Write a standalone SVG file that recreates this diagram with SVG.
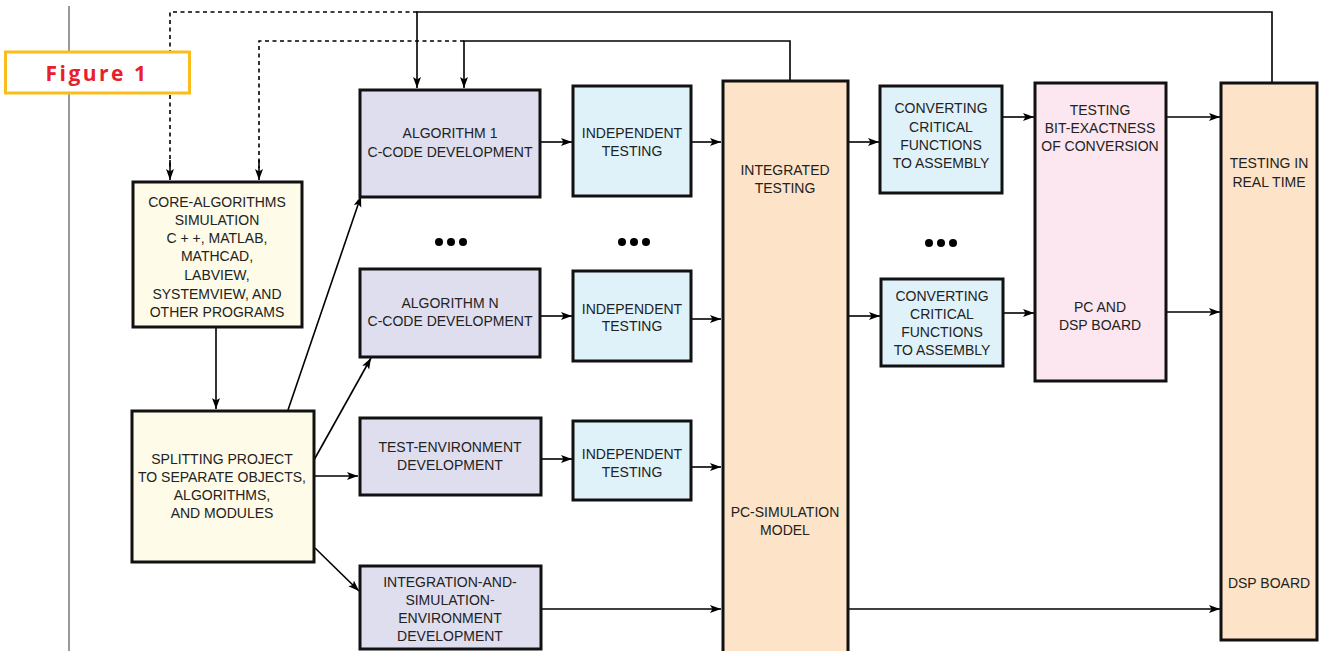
<svg xmlns="http://www.w3.org/2000/svg" width="1322" height="651" viewBox="0 0 1322 651">
<defs>
<marker id="ah" markerUnits="userSpaceOnUse" markerWidth="12" markerHeight="10" refX="11" refY="4" orient="auto">
<path d="M0,0 L11,4 L0,8 L2.5,4 Z" fill="#000"/>
</marker>
</defs>
<style>
.box{stroke:#111;stroke-width:3}
.cream{fill:#FEFBE8}
.lav{fill:#DFDEEE}
.blue{fill:#DFF2FA}
.peach{fill:#FDE3C7}
.pink{fill:#FCE6F0}
text{font-family:"Liberation Sans",Arial,sans-serif;font-size:14px;fill:#222;text-anchor:middle}
.c{fill:none;stroke:#000;stroke-width:1.6}
.a{marker-end:url(#ah)}
.d{stroke-dasharray:4,3.5}
</style>
<rect width="1322" height="651" fill="#fff"/>
<line x1="69" y1="6" x2="69" y2="651" stroke="#777" stroke-width="1.5"/>

<g id="connectors">
<path class="c d" d="M417,12 H170 V168"/>
<path class="c" d="M170,160 V180" marker-end="url(#ah)"/>
<path class="c d" d="M464,41 H259 V168"/>
<path class="c" d="M259,160 V180" marker-end="url(#ah)"/>
<path class="c a" d="M1272,83 V12 H417 V88"/>
<path class="c a" d="M790,81 V41 H464 V88"/>
<path class="c a" d="M216,327 V409"/>
<path class="c a" d="M288,410 L361,196"/>
<path class="c a" d="M314,460 L371,358"/>
<path class="c a" d="M314,476 H358"/>
<path class="c a" d="M315,548 L359,591"/>
<path class="c a" d="M540,142 H572"/>
<path class="c a" d="M691,142 H721"/>
<path class="c a" d="M540,316 H572"/>
<path class="c a" d="M691,319 H721"/>
<path class="c a" d="M541,459 H572"/>
<path class="c a" d="M691,467 H721"/>
<path class="c a" d="M541,609 H721"/>
<path class="c a" d="M848,142 H879"/>
<path class="c a" d="M848,316 H880"/>
<path class="c a" d="M848,609 H1220"/>
<path class="c a" d="M1002,117 H1034"/>
<path class="c a" d="M1003,313 H1034"/>
<path class="c a" d="M1166,117 H1220"/>
<path class="c a" d="M1166,312 H1220"/>
</g>

<g id="figure-label">
<rect x="5.5" y="52" width="184" height="41" fill="#fff" stroke="#FBBD1C" stroke-width="3"/>
<text x="97" y="81" style="font-family:'Open Sans','Liberation Sans',sans-serif;font-weight:bold;font-size:21px;fill:#E8202A;letter-spacing:2.5px">Figure 1</text>
</g>

<g id="core-algorithms">
<rect class="box cream" x="133" y="182" width="169" height="145"/>
<text x="217" y="207">CORE-ALGORITHMS</text>
<text x="217" y="225">SIMULATION</text>
<text x="217" y="243">C + +, MATLAB,</text>
<text x="217" y="261">MATHCAD,</text>
<text x="217" y="280">LABVIEW,</text>
<text x="217" y="299">SYSTEMVIEW, AND</text>
<text x="217" y="317">OTHER PROGRAMS</text>
</g>

<g id="splitting">
<rect class="box cream" x="132" y="411" width="182" height="151"/>
<text x="222" y="464">SPLITTING PROJECT</text>
<text x="222" y="482">TO SEPARATE OBJECTS,</text>
<text x="222" y="500">ALGORITHMS,</text>
<text x="222" y="518">AND MODULES</text>
</g>

<g id="algorithm-1">
<rect class="box lav" x="360" y="90" width="180" height="107"/>
<text x="450" y="138">ALGORITHM 1</text>
<text x="450" y="157">C-CODE DEVELOPMENT</text>
</g>

<g id="indep-1">
<rect class="box blue" x="573" y="86" width="118" height="110"/>
<text x="632" y="138">INDEPENDENT</text>
<text x="632" y="156">TESTING</text>
</g>

<g id="dots">
<circle cx="439" cy="242" r="4"/><circle cx="451" cy="242" r="4"/><circle cx="463" cy="242" r="4"/>
<circle cx="622" cy="242" r="4"/><circle cx="634" cy="242" r="4"/><circle cx="646" cy="242" r="4"/>
<circle cx="929" cy="243" r="4"/><circle cx="941" cy="243" r="4"/><circle cx="953" cy="243" r="4"/>
</g>

<g id="algorithm-n">
<rect class="box lav" x="360" y="269" width="180" height="88"/>
<text x="450" y="308">ALGORITHM N</text>
<text x="450" y="326">C-CODE DEVELOPMENT</text>
</g>

<g id="indep-n">
<rect class="box blue" x="573" y="271" width="118" height="90"/>
<text x="632" y="314">INDEPENDENT</text>
<text x="632" y="331">TESTING</text>
</g>

<g id="test-environment">
<rect class="box lav" x="360" y="418" width="181" height="77"/>
<text x="450" y="452">TEST-ENVIRONMENT</text>
<text x="450" y="470">DEVELOPMENT</text>
</g>

<g id="indep-3">
<rect class="box blue" x="573" y="421" width="118" height="79"/>
<text x="632" y="459">INDEPENDENT</text>
<text x="632" y="477">TESTING</text>
</g>

<g id="integration-env">
<rect class="box lav" x="360" y="566" width="181" height="83"/>
<text x="450" y="587">INTEGRATION-AND-</text>
<text x="450" y="605">SIMULATION-</text>
<text x="450" y="623">ENVIRONMENT</text>
<text x="450" y="641">DEVELOPMENT</text>
</g>

<g id="integrated-testing">
<rect class="box peach" x="723" y="81" width="125" height="580"/>
<text x="785" y="175">INTEGRATED</text>
<text x="785" y="193">TESTING</text>
<text x="785" y="517">PC-SIMULATION</text>
<text x="785" y="535">MODEL</text>
</g>

<g id="converting-1">
<rect class="box blue" x="880" y="86" width="122" height="107"/>
<text x="941" y="113">CONVERTING</text>
<text x="941" y="132">CRITICAL</text>
<text x="941" y="150">FUNCTIONS</text>
<text x="941" y="168">TO ASSEMBLY</text>
</g>

<g id="converting-n">
<rect class="box blue" x="881" y="279" width="122" height="87"/>
<text x="942" y="301">CONVERTING</text>
<text x="942" y="319">CRITICAL</text>
<text x="942" y="337">FUNCTIONS</text>
<text x="942" y="355">TO ASSEMBLY</text>
</g>

<g id="bit-exactness">
<rect class="box pink" x="1035" y="83" width="131" height="298"/>
<text x="1100" y="115">TESTING</text>
<text x="1100" y="133">BIT-EXACTNESS</text>
<text x="1100" y="151">OF CONVERSION</text>
<text x="1100" y="312">PC AND</text>
<text x="1100" y="330">DSP BOARD</text>
</g>

<g id="real-time">
<rect class="box peach" x="1221" y="83" width="96" height="557"/>
<text x="1269" y="168">TESTING IN</text>
<text x="1269" y="187">REAL TIME</text>
<text x="1269" y="588">DSP BOARD</text>
</g>
</svg>
